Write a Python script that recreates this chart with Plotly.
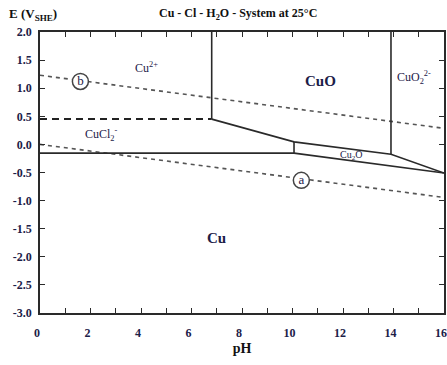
import plotly.graph_objects as go

# ---- data (pH, E in V vs SHE) ----
ph_ticks = list(range(0, 17))
ph_labels = [str(v) if v % 2 == 0 else "" for v in ph_ticks]
e_ticks = [2.0, 1.5, 1.0, 0.5, 0.0, -0.5, -1.0, -1.5, -2.0, -2.5, -3.0]
e_labels = ["2.0", "1.5", "1.0", "0.5", "0.0", "-0.5", "-1.0", "-1.5", "-2.0", "-2.5", "-3.0"]

# phase boundaries
cu2_cuo_ph = [6.8, 6.8]
cu2_cuo_e = [0.45, 2.0]
cuo_cuo2_ph = [13.9, 13.9]
cuo_cuo2_e = [-0.175, 2.0]
cu2_cucl_ph = [0.0, 6.8]
cu2_cucl_e = [0.45, 0.45]
cucl_cu_ph = [0.0, 10.06]
cucl_cu_e = [-0.155, -0.155]
upper_ph = [6.8, 10.06, 13.9, 16.0]
upper_e = [0.45, 0.045, -0.175, -0.51]
cu2o_left_ph = [10.06, 10.06]
cu2o_left_e = [-0.155, 0.045]
cu2o_lower_ph = [10.06, 16.0]
cu2o_lower_e = [-0.155, -0.51]

# water stability lines
line_a_ph = [0.0, 16.0]
line_a_e = [0.0, -0.944]
line_b_ph = [0.0, 16.0]
line_b_e = [1.23, 0.286]

# region labels
region_text = ["Cu<sup>2+</sup>", "CuO", "CuO<sub>2</sub><sup>2-</sup>", "CuCl<sub>2</sub><sup>-</sup>",
               "Cu<sub>2</sub>O", "Cu"]
region_ph = [4.2, 11.1, 14.8, 2.45, 12.3, 7.0]
region_e = [1.36, 1.13, 1.19, 0.18, -0.2, -1.67]
region_size = [12, 15, 12, 12, 10, 15]
region_bold = [False, True, False, False, False, True]

circle_text = ["a", "b"]
circle_ph = [10.35, 1.6]
circle_e = [-0.64, 1.12]

ink = "#1c2048"
line_col = "#2a2a2a"
serif = "Liberation Serif"

fig = go.Figure()

def solid(x, y):
    fig.add_trace(go.Scatter(x=x, y=y, mode="lines", line=dict(color=line_col, width=1.6),
                             showlegend=False, hoverinfo="skip"))

fig.add_trace(go.Scatter(x=line_a_ph, y=line_a_e, mode="lines",
                         line=dict(color="#555555", width=1.6, dash="4px,4px"),
                         showlegend=False, hoverinfo="skip"))
fig.add_trace(go.Scatter(x=line_b_ph, y=line_b_e, mode="lines",
                         line=dict(color="#555555", width=1.6, dash="4px,4px"),
                         showlegend=False, hoverinfo="skip"))
fig.add_trace(go.Scatter(x=cu2_cucl_ph, y=cu2_cucl_e, mode="lines",
                         line=dict(color="#222222", width=2, dash="7px,5px"),
                         showlegend=False, hoverinfo="skip"))

for xs, ys in [(cu2_cuo_ph, cu2_cuo_e), (cuo_cuo2_ph, cuo_cuo2_e), (cucl_cu_ph, cucl_cu_e),
               (upper_ph, upper_e), (cu2o_left_ph, cu2o_left_e), (cu2o_lower_ph, cu2o_lower_e)]:
    solid(xs, ys)

fig.add_trace(go.Scatter(x=circle_ph, y=circle_e, mode="markers+text", text=circle_text,
                         textposition="middle center",
                         textfont=dict(family=serif, size=13, color=ink),
                         marker=dict(symbol="circle", size=16, color="white",
                                     line=dict(color="#444444", width=1.5)),
                         showlegend=False, hoverinfo="skip"))

for t, xv, yv, s, b in zip(region_text, region_ph, region_e, region_size, region_bold):
    fig.add_annotation(x=xv, y=yv, xref="x", yref="y", text=t, showarrow=False,
                       font=dict(family=serif, size=s, color=ink, weight="bold" if b else "normal"))

fig.add_annotation(x=0.5, xref="paper", xshift=-4, y=1.0, yref="paper", yanchor="middle", yshift=18,
                   text="Cu - Cl - H<sub>2</sub>O - System at 25°C", showarrow=False,
                   font=dict(family=serif, size=12, color="#111111", weight="bold"))

fig.add_annotation(x=0, xref="paper", xanchor="left", xshift=-33, y=1.0, yref="paper",
                   yanchor="middle", yshift=18, text="E (V<sub>SHE</sub>)", showarrow=False,
                   font=dict(family=serif, size=13, color="#111111", weight="bold"))

axis_common = dict(showline=True, linecolor=line_col, linewidth=1.5, mirror="ticks",
                   ticks="inside", ticklen=5, tickwidth=1.2, tickcolor=line_col,
                   showgrid=False, zeroline=False, automargin=False,
                   tickfont=dict(family=serif, size=12, color=ink, weight="bold"))

fig.update_xaxes(range=[0, 16], tickmode="array", tickvals=ph_ticks, ticktext=ph_labels,
                 ticklabelstandoff=8, ticklabelshift=-3,
                 title=dict(text="pH", font=dict(family=serif, size=14, color="#111111", weight="bold"),
                            standoff=4),
                 **axis_common)
fig.update_yaxes(range=[-3, 2], tickmode="array", tickvals=e_ticks, ticktext=e_labels,
                 ticklabelstandoff=4, **axis_common)

fig.update_layout(width=447, height=365, margin=dict(l=40, r=3, t=32, b=52),
                  plot_bgcolor="white", paper_bgcolor="white")

# remove the default page margin so the 447x365 figure fills the window exactly
fig.write_html("out.html", config={"displayModeBar": False},
               post_script="document.body.style.margin='0';document.body.style.overflow='hidden';")
